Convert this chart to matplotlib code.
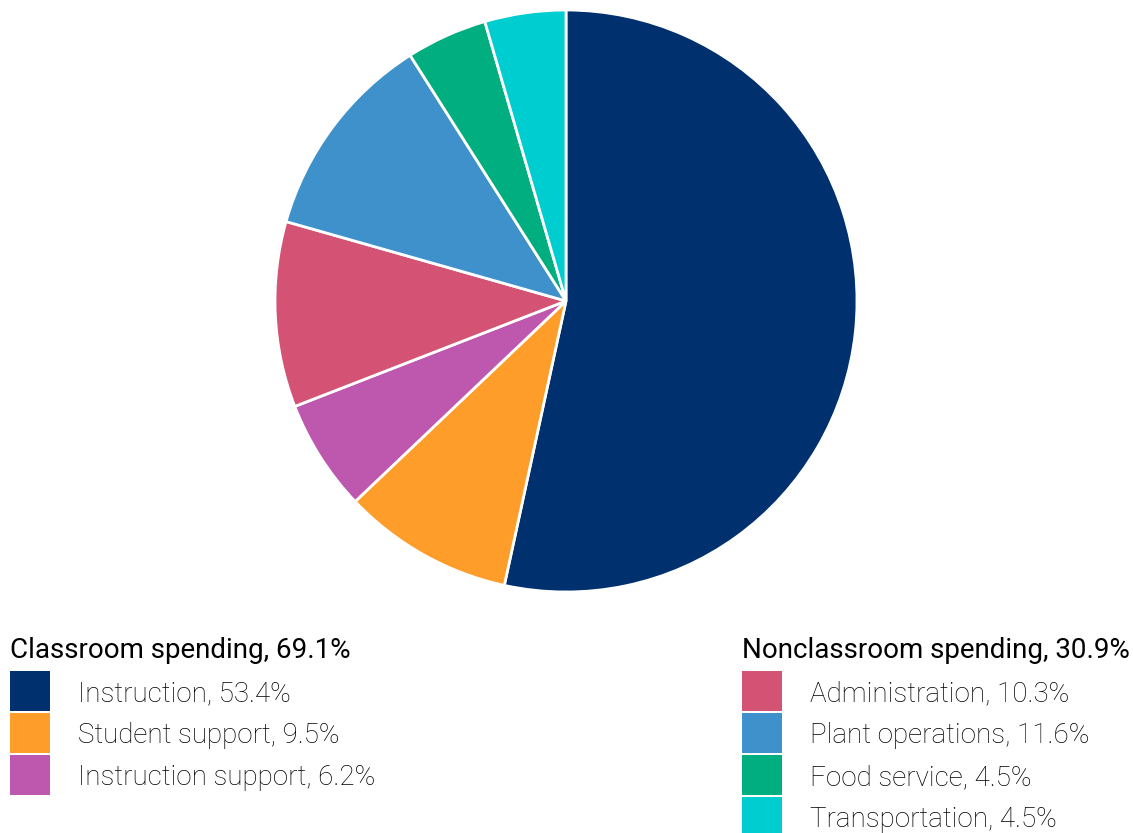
import matplotlib
matplotlib.use("Agg")
import matplotlib.pyplot as plt
from matplotlib.patches import Rectangle

# data
categories = ["Instruction", "Student support", "Instruction support",
              "Administration", "Plant operations", "Food service", "Transportation"]
shares = [53.4, 9.5, 6.2, 10.3, 11.6, 4.5, 4.5]
colors = ["#00306e", "#ff9d2b", "#bd58ae", "#d45273", "#3f91cb", "#00ae7f", "#00cdcf"]
groups = ["Classroom", "Classroom", "Classroom",
          "Nonclassroom", "Nonclassroom", "Nonclassroom", "Nonclassroom"]
group_titles = {"Classroom": "Classroom spending, 69.1%",
                "Nonclassroom": "Nonclassroom spending, 30.9%"}

W, H = 1133, 833
fig = plt.figure(figsize=(W / 100, H / 100), dpi=100)

# pie, placed in pixel terms
cx, cy, r = 566, 301, 291
ax = fig.add_axes([(cx - r) / W, (H - cy - r) / H, 2 * r / W, 2 * r / H])
ax.pie(shares, colors=colors, startangle=90, counterclock=False,
       wedgeprops=dict(edgecolor="white", linewidth=2))
ax.set_xlim(-1, 1)
ax.set_ylim(-1, 1)
ax.set_aspect("equal")
ax.axis("off")

# legend overlay in pixel coords
lax = fig.add_axes([0, 0, 1, 1])
lax.set_xlim(0, W)
lax.set_ylim(H, 0)
lax.axis("off")

font = ["Roboto", "DejaVu Sans"]
col_x = {"Classroom": 10, "Nonclassroom": 742}
for g, x0 in col_x.items():
    lax.text(x0, 658, group_titles[g], fontsize=20, family=font,
             va="baseline", ha="left", color="black")
    rows = [i for i, gg in enumerate(groups) if gg == g]
    for k, i in enumerate(rows):
        top = 671 + k * 42
        lax.add_patch(Rectangle((x0, top), 40, 40, facecolor=colors[i], edgecolor="none"))
        lax.text(x0 + 68, top + 30, f"{categories[i]}, {shares[i]}%", fontsize=20,
                 family=font, fontweight="light",
                 va="baseline", ha="left", color="black")

fig.savefig("out.png", dpi=100)
